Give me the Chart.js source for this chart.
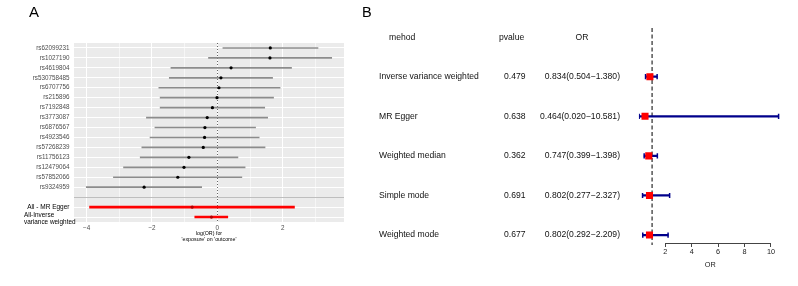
<!DOCTYPE html>
<html><head><meta charset="utf-8">
<script src="https://cdn.jsdelivr.net/npm/chart.js@4.4.1/dist/chart.umd.min.js"></script>
<style>
html,body{margin:0;padding:0;background:#fff;}
#wrap{position:relative;width:798px;height:286px;overflow:hidden;background:#fff;}
canvas{position:absolute;top:0;}
</style></head><body>
<div id="wrap">
<canvas id="ca" width="360" height="286" style="left:0px"></canvas>
<canvas id="cb" width="438" height="286" style="left:360px"></canvas>
</div>
<script>
// ---------- Panel A data (log OR per SNP) ----------
const snpLabels = ['rs62099231','rs1027190','rs4619804','rs530758485','rs6707756','rs215896','rs7192848','rs3773087','rs6876567','rs4923546','rs57268239','rs11756123','rs12479064','rs57852066','rs9324959'];
const snpB  = [1.62, 1.61, 0.42, 0.11, 0.05, -0.01, -0.15, -0.31, -0.38, -0.39, -0.43, -0.87, -1.02, -1.21, -2.24];
const snpLo = [0.17, -0.27, -1.42, -1.47, -1.79, -1.75, -1.75, -2.17, -1.91, -2.06, -2.31, -2.36, -2.87, -3.18, -4.01];
const snpHi = [3.08, 3.50, 2.27, 1.69, 1.92, 1.72, 1.45, 1.54, 1.17, 1.28, 1.46, 0.63, 0.85, 0.75, -0.48];
const mrLabels = ['All - MR Egger', 'All-Inverse variance weighted'];
const mrB  = [-0.77, -0.18];
const mrLo = [-3.91, -0.69];
const mrHi = [2.36, 0.32];
const xTicksA = [-4, -2, 0, 2];

// ---------- Panel B data (OR table) ----------
const methods = ['Inverse variance weighted','MR Egger','Weighted median','Simple mode','Weighted mode'];
const pvalues = ['0.479','0.638','0.362','0.691','0.677'];
const orVal = [0.834, 0.464, 0.747, 0.802, 0.802];
const orLo  = [0.504, 0.020, 0.399, 0.277, 0.292];
const orHi  = [1.380, 10.581, 1.398, 2.327, 2.209];
const xTicksB = [2, 4, 6, 8, 10];

const FONT = "'Liberation Sans', Arial, Helvetica, sans-serif";

// ---------- Panel A ----------
const nS = snpLabels.length;
const rowLabels = [...snpLabels, '', ...mrLabels];
const greyBars = rowLabels.map((_, i) => i < nS ? [snpLo[i], snpHi[i]] : null);
const redBars  = rowLabels.map((_, i) => i > nS ? [mrLo[i - nS - 1], mrHi[i - nS - 1]] : null);
const ptsA     = rowLabels.map((_, i) => i < nS ? snpB[i] : (i > nS ? mrB[i - nS - 1] : null));
const ptColA   = rowLabels.map((_, i) => i > nS ? '#B00000' : '#000000');

const plugA = {
  id: 'plugA',
  beforeDraw(c) {
    const {ctx, chartArea: a} = c;
    ctx.save();
    ctx.fillStyle = '#EBEBEB';
    ctx.fillRect(a.left, a.top, a.right - a.left, a.bottom - a.top);
    ctx.restore();
  },
  beforeDatasetsDraw(c) {
    const {ctx, chartArea: a, scales: {x, y}} = c;
    ctx.save();
    const ys = Math.round(y.getPixelForValue(nS)) + 0.5;
    ctx.strokeStyle = '#BEBEBE'; ctx.lineWidth = 1.2;
    ctx.beginPath(); ctx.moveTo(a.left, ys); ctx.lineTo(a.right, ys); ctx.stroke();
    const x0 = Math.round(x.getPixelForValue(0)) + 0.5;
    ctx.strokeStyle = '#666666'; ctx.lineWidth = 1; ctx.setLineDash([1, 2]);
    ctx.beginPath(); ctx.moveTo(x0, a.top); ctx.lineTo(x0, a.bottom); ctx.stroke();
    ctx.restore();
  },
  afterDraw(c) {
    const {ctx, scales: {y}} = c;
    ctx.save();
    ctx.fillStyle = '#000';
    ctx.font = '15px ' + FONT;
    ctx.textBaseline = 'middle'; ctx.textAlign = 'left';
    ctx.fillText('A', 29, 13);
    // two-line label for last row, left-justified
    const yy = y.getPixelForValue(nS + 2);
    ctx.font = '6.4px ' + FONT;
    const parts = ['All-Inverse', 'variance weighted'];
    ctx.fillText(parts[0], 24, yy - 1.5);
    ctx.fillText(parts[1], 24, yy + 5.5);
    ctx.restore();
  }
};

new Chart(document.getElementById('ca'), {
  type: 'bar',
  data: {
    labels: rowLabels,
    datasets: [
      { type: 'line', indexAxis: 'y', data: ptsA, showLine: false, pointRadius: 1.6, pointStyle: 'circle',
        pointBackgroundColor: ptColA, pointBorderColor: ptColA, pointBorderWidth: 0, order: 0 },
      { type: 'bar', data: redBars, backgroundColor: '#FF0000', barThickness: 2, grouped: false, order: 1 },
      { type: 'bar', data: greyBars, backgroundColor: '#8C8C8C', barThickness: 1, grouped: false, order: 2 }
    ]
  },
  options: {
    indexAxis: 'y', responsive: false, animation: false, devicePixelRatio: 1,
    layout: { padding: { left: 0, top: 43, right: 16, bottom: 43.6 } },
    plugins: { legend: { display: false }, tooltip: { enabled: false } },
    scales: {
      x: {
        type: 'linear', min: -4.386, max: 3.876, border: { display: false },
        grid: { color: '#FFFFFF', drawTicks: false,
          lineWidth: c => (Math.abs(Math.round(c.tick.value)) % 2 === 0 ? 1 : 0.55) },
        ticks: { stepSize: 1, includeBounds: false, autoSkip: false, maxRotation: 0, padding: 2,
          color: '#4D4D4D', font: { family: FONT, size: 6.3 },
          callback: v => xTicksA.includes(Math.round(v)) ? (v < 0 ? '\u2212' + Math.abs(v) : String(v)) : '' },
        title: { display: true, text: ['log(OR) for', "'exposure' on 'outcome'"], color: '#000',
          font: { family: FONT, size: 5.3, lineHeight: 1.1 }, padding: 0 },
        afterFit: s => { s.height = 20.4; }
      },
      y: {
        type: 'category', offset: true, border: { display: false },
        grid: { offset: false, drawTicks: false, lineWidth: 1,
          color: c => c.index === nS ? 'rgba(0,0,0,0)' : '#FFFFFF' },
        ticks: { autoSkip: false, padding: 4.5,
          color: c => c.index > nS ? '#000000' : '#4D4D4D',
          font: c => ({ family: FONT, size: c.index > nS ? 6.5 : 6.3 }),
          callback: (v, i) => i === nS + 2 ? '' : rowLabels[i] },
        afterFit: s => { s.width = 74; }
      }
    }
  },
  plugins: [plugA]
});

// ---------- Panel B ----------
const rowsB = methods.map((_, i) => i);
const barsB = rowsB.map(i => ({ x: [orLo[i], orHi[i]], y: i }));
const boxesB = rowsB.map(i => ({ x: orVal[i], y: i }));
const capsB = [...rowsB.map(i => ({ x: orLo[i], y: i })), ...rowsB.map(i => ({ x: orHi[i], y: i }))];
const orText = rowsB.map(i => orVal[i].toFixed(3) + '(' + orLo[i].toFixed(3) + '\u2212' + orHi[i].toFixed(3) + ')');

const plugB = {
  id: 'plugB',
  beforeDatasetsDraw(c) {
    const {ctx, chartArea: a, scales: {x}} = c;
    ctx.save();
    // axis line from first to last labelled tick
    const yb = Math.round(a.bottom) + 0.5;
    ctx.strokeStyle = '#444444'; ctx.lineWidth = 1;
    ctx.beginPath();
    ctx.moveTo(x.getPixelForValue(xTicksB[0]), yb);
    ctx.lineTo(x.getPixelForValue(xTicksB[xTicksB.length - 1]), yb);
    ctx.stroke();
    // dashed reference line at OR = 1
    const x1 = x.getPixelForValue(1);
    ctx.strokeStyle = '#555555'; ctx.lineWidth = 1.5; ctx.setLineDash([4, 2.5]);
    ctx.beginPath(); ctx.moveTo(x1, a.top); ctx.lineTo(x1, a.bottom + 2); ctx.stroke();
    ctx.restore();
  },
  afterDraw(c) {
    const {ctx, scales: {y}} = c;
    ctx.save();
    ctx.fillStyle = '#000';
    ctx.textBaseline = 'middle';
    ctx.font = '14.5px ' + FONT; ctx.textAlign = 'left';
    ctx.fillText('B', 2, 13);
    ctx.fillStyle = '#111';
    ctx.font = '8.6px ' + FONT;
    const hy = 38;
    ctx.textAlign = 'left';  ctx.fillText('mehod', 29, hy);
    ctx.textAlign = 'left';  ctx.fillText('pvalue', 139, hy);
    ctx.textAlign = 'center'; ctx.fillText('OR', 222, hy);
    rowsB.forEach(i => {
      const yy = y.getPixelForValue(i);
      ctx.textAlign = 'left';  ctx.fillText(methods[i], 19, yy);
      ctx.textAlign = 'right'; ctx.fillText(pvalues[i], 165.5, yy);
      ctx.textAlign = 'right'; ctx.fillText(orText[i], 260, yy);
    });
    ctx.restore();
  }
};

new Chart(document.getElementById('cb'), {
  type: 'bar',
  data: {
    datasets: [
      { type: 'line', indexAxis: 'y', data: boxesB, showLine: false, pointStyle: 'rect', pointRadius: 5,
        pointBackgroundColor: '#FF0000', pointBorderWidth: 0, order: 0 },
      { type: 'line', indexAxis: 'y', data: capsB, showLine: false, pointStyle: 'line', pointRotation: 90,
        pointRadius: 2.6, pointBorderColor: '#00008B', pointBorderWidth: 1.5, order: 1 },
      { type: 'bar', data: barsB, backgroundColor: '#00008B', barThickness: 1.6, grouped: false, order: 2 }
    ]
  },
  options: {
    indexAxis: 'y', responsive: false, animation: false, devicePixelRatio: 1,
    layout: { padding: { left: 278.9, top: 28, right: 16.5, bottom: 16.9 } },
    plugins: { legend: { display: false }, tooltip: { enabled: false } },
    scales: {
      x: {
        type: 'linear', min: 0, max: 10.8, border: { display: false },
        grid: { drawOnChartArea: false, drawTicks: true, tickLength: 4, lineWidth: 1,
          color: c => (c.tick && xTicksB.includes(c.tick.value)) ? '#444444' : 'rgba(0,0,0,0)' },
        ticks: { stepSize: 2, includeBounds: false, autoSkip: false, maxRotation: 0, padding: 1,
          color: '#222', font: { family: FONT, size: 7.3 },
          callback: v => xTicksB.includes(v) ? String(v) : '' },
        title: { display: true, text: 'OR', color: '#222', font: { family: FONT, size: 7.3 }, padding: 0 },
        afterFit: s => { s.height = 26.1; }
      },
      y: { type: 'linear', display: false, reverse: true, offset: false, min: -1.23, max: 4.2 }
    }
  },
  plugins: [plugB]
});
</script>
</body></html>
